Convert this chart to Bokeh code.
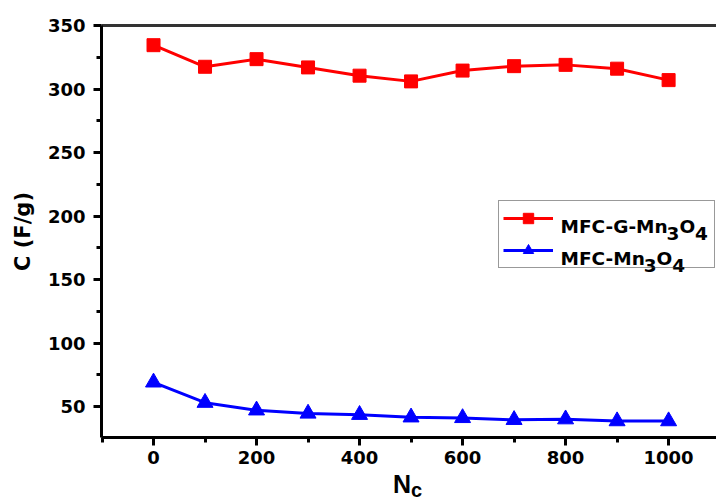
from bokeh.plotting import figure
from bokeh.models import Range1d, LinearAxis, Legend, LegendItem, Label, FixedTicker, Div
from bokeh.layouts import column
from bokeh.embed import file_html
from bokeh.resources import INLINE

cycles = [0, 100, 200, 300, 400, 500, 600, 700, 800, 900, 1000]
mfc_g_mn3o4 = [334.5, 317.5, 323.5, 317, 310.5, 306, 314.5, 318, 319, 316, 307]
mfc_mn3o4 = [69, 53, 47, 44.5, 43.5, 41.5, 41, 39.5, 40, 38.5, 38.5]
x_ticks = [0, 200, 400, 600, 800, 1000]
y_ticks = [50, 100, 150, 200, 250, 300, 350]
series_names = [("MFC-G-Mn", "3", "O", "4"), ("MFC-Mn", "3", "O", "4")]

FONT = "DejaVu Sans"

p = figure(width=716, height=472, output_backend="svg", toolbar_location=None,
           x_range=Range1d(-101, 1093), y_range=Range1d(25.6, 350),
           min_border_left=101, min_border_right=0, min_border_top=25, min_border_bottom=35)
p.outline_line_color = None
p.grid.visible = False
p.background_fill_color = "white"

r1 = p.line(cycles, mfc_g_mn3o4, line_color="#ff0000", line_width=3)
s1 = p.scatter(cycles, mfc_g_mn3o4, marker="square", size=13, fill_color="#ff0000", line_color="#ff0000")
r2 = p.line(cycles, mfc_mn3o4, line_color="#0000ff", line_width=3)
s2 = p.scatter(cycles, mfc_mn3o4, marker="triangle", size=16, fill_color="#0000ff", line_color="#0000ff")

for ax in (p.xaxis[0], p.yaxis[0]):
    ax.axis_line_width = 3
    ax.axis_line_color = "black"
    ax.major_tick_line_width = 3
    ax.minor_tick_line_width = 3
    ax.major_tick_out = 8
    ax.major_tick_in = 0
    ax.minor_tick_out = 5
    ax.minor_tick_in = 0
    ax.major_label_text_font = FONT
    ax.major_label_text_font_style = "bold"
    ax.major_label_text_font_size = "18px"
    ax.major_label_text_color = "black"
    ax.axis_label_text_font = FONT
    ax.axis_label_text_font_style = "bold"
    ax.axis_label_text_font_size = "21px"
    ax.axis_label_text_color = "black"

p.xaxis[0].ticker = FixedTicker(ticks=x_ticks, minor_ticks=[-100, 100, 300, 500, 700, 900])
p.yaxis[0].ticker = FixedTicker(ticks=y_ticks, minor_ticks=[25, 75, 125, 175, 225, 275, 325])
p.yaxis[0].axis_label = "C (F/g)"
p.yaxis[0].axis_label_standoff = 10
p.yaxis[0].major_label_standoff = 8
p.xaxis[0].major_label_standoff = 5

top = LinearAxis(ticker=FixedTicker(ticks=[]), major_label_text_font_size="0px",
                 axis_line_color="#333333", axis_line_width=3,
                 major_tick_line_color=None, minor_tick_line_color=None)
p.add_layout(top, "above")

legend = Legend(items=[LegendItem(label=" ", renderers=[r1, s1]),
                       LegendItem(label=" ", renderers=[r2, s2])],
                location=(397, 169))
legend.label_text_font_size = "18px"
legend.border_line_color = "#333333"
legend.border_line_width = 1
legend.glyph_width = 50
legend.glyph_height = 26
legend.label_height = 26
legend.label_width = 150
legend.spacing = 6
legend.padding = 4
legend.margin = 0
legend.label_standoff = 7
legend.background_fill_alpha = 0
p.add_layout(legend, "center")

# legend texts with subscripts (frame screen units)
EM = {"M": .974, "F": .683, "C": .735, "-": .416, "G": .821, "n": .712, "O": .850,
      "3": .696, "4": .696}
LS = 18.5
def w(s):
    return sum(EM[ch] for ch in s) * LS

for (base, sub1, mid, sub2), yb in zip(series_names, [211, 179]):
    x = 459
    for txt, dy in ((base, 0), (sub1, -7), (mid, 0), (sub2, -7)):
        p.add_layout(Label(x=x, y=yb + dy, x_units="screen", y_units="screen", text=txt,
                           text_baseline="alphabetic", text_font=FONT, text_font_style="bold",
                           text_font_size=f"{LS}px", text_color="black", level="overlay"))
        x += w(txt)

xlabel = Div(text='<div style="font-family:\'Liberation Sans\',Arial,sans-serif;font-weight:bold;'
                  'font-size:25px;line-height:24px;padding-left:393px;white-space:nowrap;color:black;">'
                  'N<span style="position:relative;top:4px;font-size:20px;">c</span></div>',
             width=716, height=30, margin=0)

layout = column(p, xlabel, spacing=0)
open("out.html", "w").write(file_html(layout, INLINE))
